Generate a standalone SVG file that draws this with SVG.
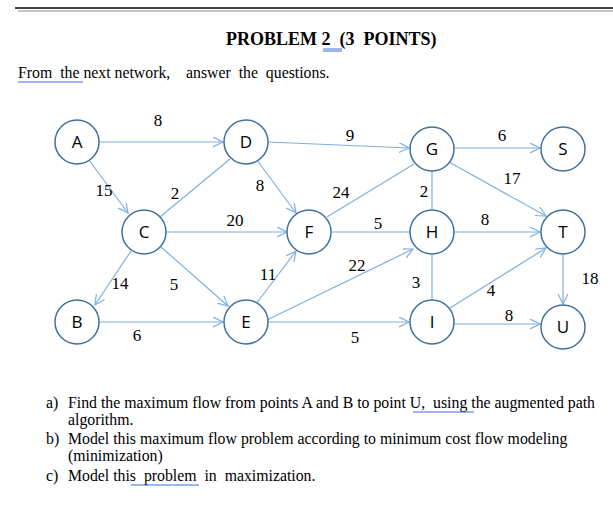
<svg xmlns="http://www.w3.org/2000/svg" width="613" height="516" viewBox="0 0 613 516">
<style>
text{white-space:pre}
.n{fill:#fff;stroke:#41719c;stroke-width:1.5}
.nl{font-family:"Open Sans",sans-serif;font-size:17px;text-anchor:middle;fill:#000}
.e{stroke:#7eb0e0;stroke-width:1.2;fill:none}
.w{font-family:"Liberation Serif",serif;font-size:17px;text-anchor:middle}
.t{font-family:"Liberation Serif",serif;font-size:15.8px}
</style>
<defs><marker id="ar" markerWidth="12" markerHeight="12" refX="10" refY="5" orient="auto" markerUnits="userSpaceOnUse"><path d="M0,0 L10,5 L0,10" fill="none" stroke="#7eb0e0" stroke-width="1.2"/></marker></defs>
<rect width="613" height="516" fill="#fff"/>
<line x1="15" y1="8" x2="613" y2="8" stroke="#000" stroke-width="1.5"/>
<line x1="18" y1="11" x2="613" y2="11" stroke="#888" stroke-width="1.2"/>
<text x="226" y="45" font-family="Liberation Serif,serif" font-size="18" font-weight="bold" xml:space="preserve">PROBLEM 2  (3  POINTS)</text>
<line x1="323" y1="49" x2="342" y2="49" stroke="#3a6fd8"/><line x1="323" y1="51" x2="342" y2="51" stroke="#3a6fd8"/>
<text class="t" x="18" y="78" xml:space="preserve">From  the next network,    answer  the  questions.</text>
<line x1="18" y1="82" x2="83" y2="82" stroke="#3a6fd8"/>
<g id="connectors">
<line class="e" x1="98" y1="142" x2="223" y2="142" marker-end="url(#ar)"/>
<line class="e" x1="89" y1="160" x2="128" y2="213" marker-end="url(#ar)"/>
<line class="e" x1="160" y1="217" x2="230" y2="159"/>
<line class="e" x1="166" y1="232" x2="287" y2="232" marker-end="url(#ar)"/>
<line class="e" x1="131" y1="251" x2="95" y2="305" marker-end="url(#ar)"/>
<line class="e" x1="161" y1="247" x2="228" y2="306" marker-end="url(#ar)"/>
<line class="e" x1="98" y1="322" x2="223" y2="322" marker-end="url(#ar)"/>
<line class="e" x1="257" y1="160" x2="296" y2="213" marker-end="url(#ar)"/>
<line class="e" x1="256" y1="304" x2="296" y2="251" marker-end="url(#ar)"/>
<line class="e" x1="268" y1="142" x2="409" y2="148" marker-end="url(#ar)"/>
<line class="e" x1="327" y1="217" x2="414" y2="164"/>
<line class="e" x1="331" y1="232" x2="410" y2="232"/>
<line class="e" x1="267" y1="320" x2="413" y2="249" marker-end="url(#ar)"/>
<line class="e" x1="268" y1="322" x2="409" y2="322" marker-end="url(#ar)"/>
<line class="e" x1="454" y1="148" x2="540" y2="148" marker-end="url(#ar)"/>
<line class="e" x1="449" y1="162" x2="546" y2="216" marker-end="url(#ar)"/>
<line class="e" x1="432" y1="171" x2="432" y2="210"/>
<line class="e" x1="454" y1="232" x2="540" y2="232" marker-end="url(#ar)"/>
<line class="e" x1="432" y1="254" x2="432" y2="300"/>
<line class="e" x1="450" y1="308" x2="546" y2="248" marker-end="url(#ar)"/>
<line class="e" x1="454" y1="324" x2="540" y2="324" marker-end="url(#ar)"/>
<line class="e" x1="563" y1="254" x2="563" y2="304" marker-end="url(#ar)"/>
</g>
<g id="weights">
<text class="w" x="158" y="126">8</text>
<text class="w" x="104" y="196">15</text>
<text class="w" x="175" y="199">2</text>
<text class="w" x="235" y="226">20</text>
<text class="w" x="120" y="289">14</text>
<text class="w" x="174" y="290">5</text>
<text class="w" x="137" y="341">6</text>
<text class="w" x="260" y="191">8</text>
<text class="w" x="268" y="280">11</text>
<text class="w" x="350" y="141">9</text>
<text class="w" x="341" y="198">24</text>
<text class="w" x="378" y="229">5</text>
<text class="w" x="357" y="271">22</text>
<text class="w" x="355" y="343">5</text>
<text class="w" x="502" y="141">6</text>
<text class="w" x="512" y="184">17</text>
<text class="w" x="424" y="197">2</text>
<text class="w" x="485" y="225">8</text>
<text class="w" x="416" y="288">3</text>
<text class="w" x="491" y="296">4</text>
<text class="w" x="509" y="321">8</text>
<text class="w" x="590" y="284">18</text>
</g>
<g id="node-A"><circle class="n" cx="77" cy="142" r="22"/><text class="nl" x="77" y="148">A</text></g>
<g id="node-D"><circle class="n" cx="246" cy="142" r="22"/><text class="nl" x="246" y="148">D</text></g>
<g id="node-G"><circle class="n" cx="432" cy="149" r="22"/><text class="nl" x="432" y="155">G</text></g>
<g id="node-S"><circle class="n" cx="563" cy="149" r="22"/><text class="nl" x="563" y="155">S</text></g>
<g id="node-C"><circle class="n" cx="144" cy="232" r="22"/><text class="nl" x="144" y="238">C</text></g>
<g id="node-F"><circle class="n" cx="309" cy="232" r="22"/><text class="nl" x="309" y="238">F</text></g>
<g id="node-H"><circle class="n" cx="432" cy="232" r="22"/><text class="nl" x="432" y="238">H</text></g>
<g id="node-T"><circle class="n" cx="563" cy="232" r="22"/><text class="nl" x="563" y="238">T</text></g>
<g id="node-B"><circle class="n" cx="77" cy="322" r="22"/><text class="nl" x="77" y="328">B</text></g>
<g id="node-E"><circle class="n" cx="246" cy="322" r="22"/><text class="nl" x="246" y="328">E</text></g>
<g id="node-I"><circle class="n" cx="432" cy="322" r="22"/><text class="nl" x="432" y="328">I</text></g>
<g id="node-U"><circle class="n" cx="563" cy="327" r="22"/><text class="nl" x="563" y="333">U</text></g>
<g class="t">
<text x="46" y="408">a)</text><text x="68" y="408" xml:space="preserve">Find the maximum flow from points A and B to point U,  using the augmented path</text>
<text x="68" y="425">algorithm.</text>
<text x="46" y="444">b)</text><text x="68" y="444">Model this maximum flow problem according to minimum cost flow modeling</text>
<text x="68" y="461">(minimization)</text>
<text x="46" y="481">c)</text><text x="68" y="481" xml:space="preserve">Model this  problem  in  maximization.</text>
</g>
<line x1="413" y1="412" x2="474" y2="412" stroke="#3a6fd8"/>
<line x1="131" y1="485" x2="199" y2="485" stroke="#3a6fd8"/>
</svg>
